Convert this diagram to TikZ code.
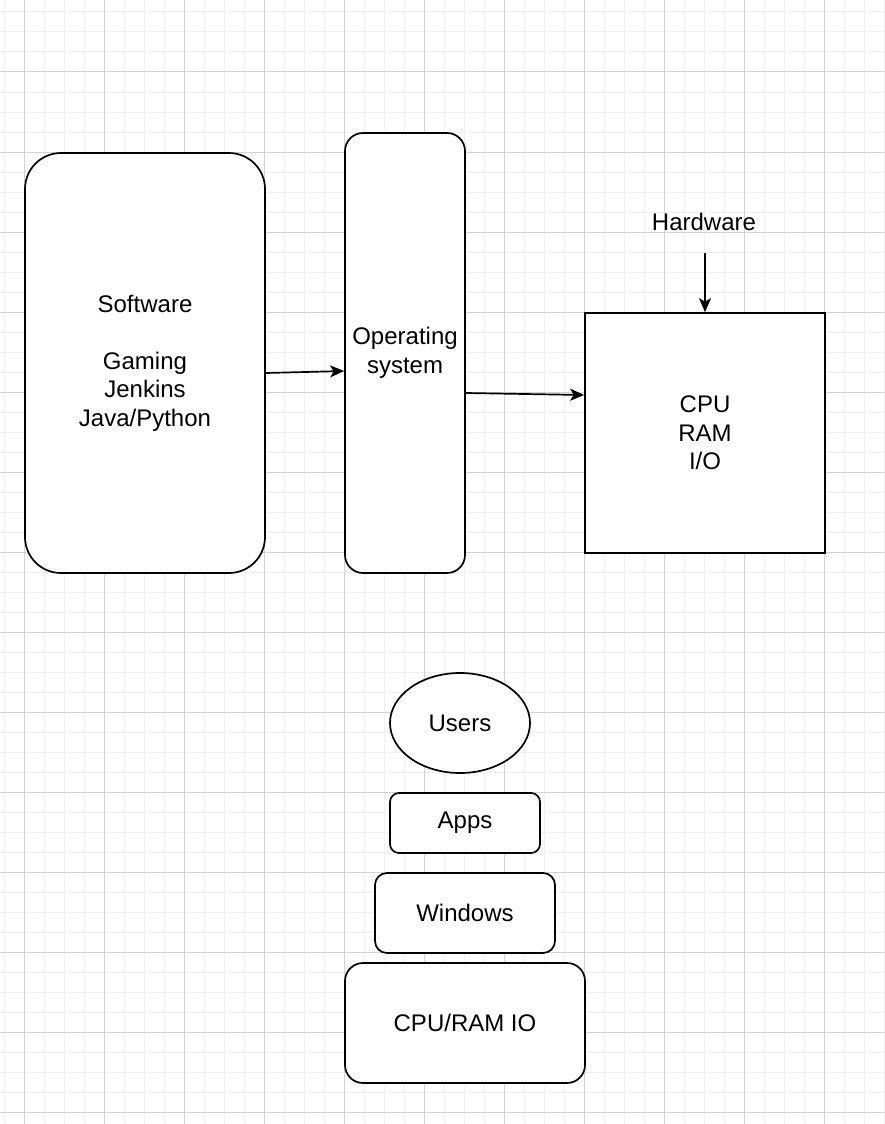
\documentclass[tikz,border=0pt]{standalone}
\usepackage{fontspec}
\setmainfont{Liberation Sans}
\usetikzlibrary{shapes.geometric,arrows.meta}
\definecolor{gridminor}{HTML}{F0F0F0}
\definecolor{gridmajor}{HTML}{D2D2D2}
\tikzset{
  every node/.style={font=\fontsize{24}{28.5}\selectfont, inner sep=0pt, align=center},
  box/.style={draw, line width=1.7pt, fill=white},
  rbox/.style={box, rounded corners=#1},
  conn/.style={line width=1.7pt, -{Stealth[length=14pt,width=12pt,inset=3.5pt]}},
}
\begin{document}
\begin{tikzpicture}[x=1pt,y=-1pt]
\useasboundingbox (0,0) rectangle (884,1124);
\fill[white] (0,0) rectangle (884,1124);
% grid
\foreach \x in {4,24,...,884} \draw[gridminor, line width=1pt] (\x,0) -- (\x,1124);
\foreach \y in {12,32,...,1124} \draw[gridminor, line width=1pt] (0,\y) -- (884,\y);
\foreach \x in {24,104,...,884} \draw[gridmajor, line width=1pt] (\x,0) -- (\x,1124);
\foreach \y in {72,152,...,1124} \draw[gridmajor, line width=1pt] (0,\y) -- (884,\y);

% top diagram
\node[rbox=36pt, minimum width=240pt, minimum height=420pt] (sw) at (145,363)
  {Software\\ \\Gaming\\Jenkins\\Java/Python};
\node[rbox=18pt, minimum width=120pt, minimum height=440pt] (os) at (405,353)
  {Operating\\system};
\node[box, minimum width=240pt, minimum height=240pt] (cpu) at (705,433)
  {CPU\\RAM\\I/O};
\node (hw) at (704,222) {Hardware};
\coordinate (hwtail) at (705,253);

\draw[conn] ([yshift=-10pt]sw.east) -- ([yshift=-18pt]os.west);
\draw[conn] ([yshift=-40pt]os.east) -- ([yshift=38pt]cpu.west);
\draw[conn] (hwtail) -- (cpu.north);

% bottom stack
\node[box, ellipse, minimum width=140pt, minimum height=100pt] (users) at (460,723) {Users};
\node[rbox=9pt, minimum width=150pt, minimum height=60pt] (apps) at (465,823) {Apps};
\node[rbox=12pt, minimum width=180pt, minimum height=80pt] (win) at (465,913) {Windows};
\node[rbox=18pt, minimum width=240pt, minimum height=120pt] (hwbox) at (465,1023) {CPU/RAM IO};
\end{tikzpicture}
\end{document}
